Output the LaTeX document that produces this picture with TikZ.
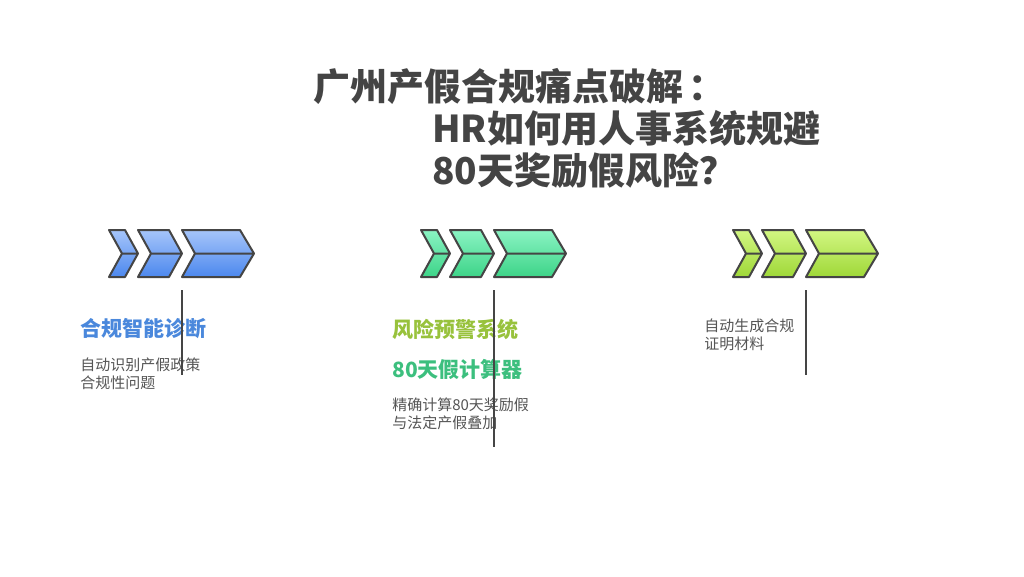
\documentclass[tikz,border=0pt]{standalone}
\usepackage{fontspec}
\setmainfont{Noto Sans CJK SC}
\definecolor{edge}{HTML}{454545}
\definecolor{titlegray}{HTML}{444444}
\definecolor{bodygray}{HTML}{555555}
\definecolor{blueA}{HTML}{A6C5FA}
\definecolor{blueB}{HTML}{4C88EE}
\definecolor{greenA}{HTML}{8AF3C3}
\definecolor{greenB}{HTML}{3DD488}
\definecolor{limeA}{HTML}{D2F682}
\definecolor{limeB}{HTML}{9FD838}
\definecolor{bluetext}{HTML}{4A88DC}
\definecolor{limetext}{HTML}{98C23C}
\definecolor{greentext}{HTML}{3CBF7E}
\begin{document}
\begin{tikzpicture}[x=0.75pt,y=-0.75pt,line join=round,
  chev/.style={draw=edge,line width=1.5pt},
  bluechev/.style={chev,top color=blueA,bottom color=blueB},
  greenchev/.style={chev,top color=greenA,bottom color=greenB},
  limechev/.style={chev,top color=limeA,bottom color=limeB},
  stem/.style={draw=edge,line width=1.5pt},
  title/.style={anchor=west,inner sep=0pt,text=titlegray,font=\bfseries\fontsize{27.75}{33}\selectfont},
  head/.style={anchor=west,inner sep=0pt,font=\bfseries\fontsize{15.75}{19}\selectfont},
  body/.style={anchor=west,inner sep=0pt,align=left,text=bodygray,font=\fontsize{11.25}{13.5}\selectfont}]
\fill[white] (0,0) rectangle (1024,576);
\useasboundingbox (0,0) rectangle (1024,576);
% title
\node[title] (t1) at (313,86) {广州产假合规痛点破解\hspace{4pt}：};
\node[title] (t2) at (432,128) {HR如何用人事系统规避};
\node[title] (t3) at (432,170) {80天奖励假风险？};
% chevrons
\path[bluechev] (109,230) -- (125,230) -- (138,253.5) -- (125,277) -- (109,277) -- (122,253.5) -- cycle (122,253.5) -- (138,253.5);
\path[bluechev] (138,230) -- (169,230) -- (182,253.5) -- (169,277) -- (138,277) -- (151,253.5) -- cycle (151,253.5) -- (182,253.5);
\path[bluechev] (182,230) -- (240,230) -- (254,253.5) -- (240,277) -- (182,277) -- (195,253.5) -- cycle (195,253.5) -- (254,253.5);
\path[greenchev] (421,230) -- (437,230) -- (450,253.5) -- (437,277) -- (421,277) -- (434,253.5) -- cycle (434,253.5) -- (450,253.5);
\path[greenchev] (450,230) -- (481,230) -- (494,253.5) -- (481,277) -- (450,277) -- (463,253.5) -- cycle (463,253.5) -- (494,253.5);
\path[greenchev] (494,230) -- (552,230) -- (566,253.5) -- (552,277) -- (494,277) -- (507,253.5) -- cycle (507,253.5) -- (566,253.5);
\path[limechev] (733,230) -- (749,230) -- (762,253.5) -- (749,277) -- (733,277) -- (746,253.5) -- cycle (746,253.5) -- (762,253.5);
\path[limechev] (762,230) -- (793,230) -- (806,253.5) -- (793,277) -- (762,277) -- (775,253.5) -- cycle (775,253.5) -- (806,253.5);
\path[limechev] (806,230) -- (864,230) -- (878,253.5) -- (864,277) -- (806,277) -- (819,253.5) -- cycle (819,253.5) -- (878,253.5);
% texts
\node[head, text=bluetext] (h1) at (80,329) {合规智能诊断};
\node[body] (b1) at (80,374) {自动识别产假政策\\合规性问题};
\node[head, text=limetext] (h2) at (392,329) {风险预警系统};
\node[head, text=greentext] (h3) at (392,369) {80天假计算器};
\node[body] (b2) at (392,414) {精确计算80天奖励假\\与法定产假叠加};
\node[body] (b3) at (704,334.5) {自动生成合规\\证明材料};
% stems
\coordinate (s1a) at (182,290);
\coordinate (s1b) at (182,375);
\coordinate (s2a) at (494,290);
\coordinate (s2b) at (494,447);
\coordinate (s3a) at (806,290);
\coordinate (s3b) at (806,375);
\draw[stem] (s1a) -- (s1b);
\draw[stem] (s2a) -- (s2b);
\draw[stem] (s3a) -- (s3b);
\end{tikzpicture}
\end{document}
